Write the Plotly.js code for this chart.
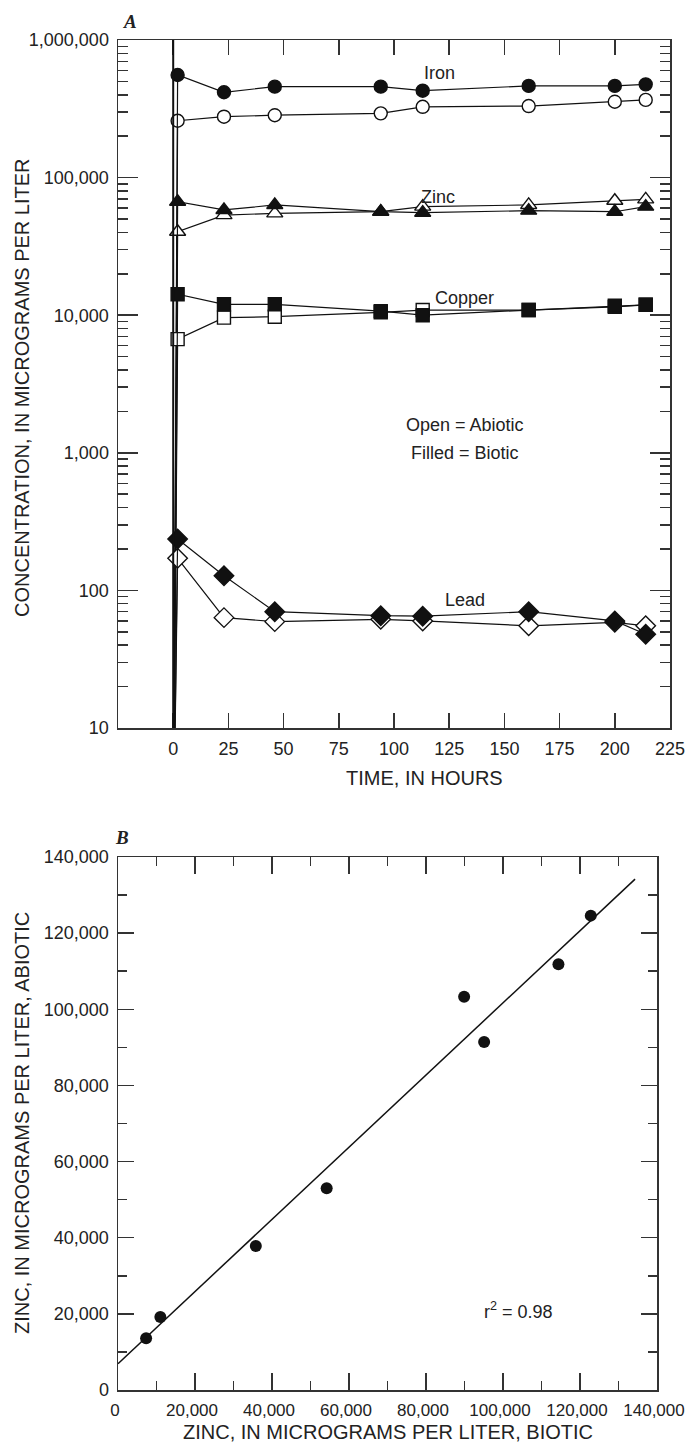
<!DOCTYPE html>
<html>
<head>
<meta charset="utf-8">
<script src="https://cdn.plot.ly/plotly-3.0.1.min.js"></script>
<style>
  html, body { margin: 0; padding: 0; background: #fff; }
  #chart { width: 686px; height: 1454px; }
</style>
</head>
<body>
<div id="chart"></div>
<script>
// ---------- Panel A data (time in hours; concentration in micrograms per liter) ----------
// first point = time zero, before metals were detected (below plotted range)
const timeHours = [0, 2, 23, 46, 94, 113, 161, 200, 214];
const ironBiotic    = [1, 557000, 417000, 458000, 458000, 428000, 464000, 464000, 476000];
const ironAbiotic   = [1, 259000, 277000, 284000, 293000, 327000, 331000, 356000, 367000];
const zincBiotic    = [1, 66800, 58200, 63300, 56500, 55600, 57500, 56500, 61500];
const zincAbiotic   = [1, 40400, 53400, 55000, 56500, 61500, 63300, 67900, 69500];
const copperBiotic  = [1, 14200, 12000, 12000, 10700, 10000, 10900, 11700, 11900];
const copperAbiotic = [1, 6700, 9600, 9750, 10500, 10900, 10900, 11500, 11900];
const leadBiotic    = [1, 236, 128, 70, 65.5, 65, 70, 60, 48];
const leadAbiotic   = [1, 171, 63.4, 59.3, 61.6, 60, 55.3, 58.6, 55.3];

const timeTicks = [0, 25, 50, 75, 100, 125, 150, 175, 200, 225];
const concTicks = [10, 100, 1000, 10000, 100000, 1000000];
const concTickText = ["10", "100", "1,000", "10,000", "100,000", "1,000,000"];

// ---------- Panel B data ----------
const zincBioticB  = [7300, 11000, 35800, 54200, 89900, 95100, 114400, 122800];
const zincAbioticB = [13600, 19200, 37800, 53000, 103300, 91400, 111800, 124600];
const fitX = [0, 134300];
const fitY = [6900, 134200];
const zincTicks = [0, 20000, 40000, 60000, 80000, 100000, 120000, 140000];
const zincTickText = ["0", "20,000", "40,000", "60,000", "80,000", "100,000", "120,000", "140,000"];

// ---------- styling ----------
const FONT = '"Liberation Sans", Arial, Helvetica, sans-serif';
const INK = '#222';
const AX = '#333';

// minor log ticks (2..9 per decade)
const minorLog = [];
for (let d = 10; d < 1000000; d *= 10) {
  for (let k = 2; k <= 9; k++) minorLog.push(k * d);
}

function series(y, symbol, filled) {
  return {
    x: timeHours, y: y, type: 'scatter', mode: 'lines+markers',
    xaxis: 'x', yaxis: 'y',
    line: { color: '#111', width: 1.2 },
    marker: {
      symbol: symbol,
      size: symbol === 'diamond' ? 15 : (symbol === 'triangle-up' ? 14 : 13),
      color: filled ? '#111' : '#fff',
      line: { color: '#111', width: 1.4 }
    },
    hoverinfo: 'x+y', showlegend: false
  };
}

const traces = [
  series(ironAbiotic, 'circle', false),
  series(ironBiotic, 'circle', true),
  series(zincAbiotic, 'triangle-up', false),
  series(zincBiotic, 'triangle-up', true),
  series(copperAbiotic, 'square', false),
  series(copperBiotic, 'square', true),
  series(leadAbiotic, 'diamond', false),
  series(leadBiotic, 'diamond', true),
  {
    x: fitX, y: fitY, type: 'scatter', mode: 'lines',
    xaxis: 'x2', yaxis: 'y2',
    line: { color: '#111', width: 1.5 }, showlegend: false
  },
  {
    x: zincBioticB, y: zincAbioticB, type: 'scatter', mode: 'markers',
    xaxis: 'x2', yaxis: 'y2',
    marker: { symbol: 'circle', size: 12, color: '#111' }, showlegend: false
  }
];

const axBase = {
  showgrid: false, zeroline: false, showline: true,
  linecolor: AX, linewidth: 1.5, mirror: 'ticks',
  ticks: 'inside', tickcolor: AX, tickwidth: 1.5,
  tickfont: { family: FONT, size: 18, color: INK },
  ticklabelstandoff: 4, ticklabeloverflow: 'allow'
};

// paper coords helpers (plot area: x 118..670 px, y 40..1390 px)
const px = v => (v - 118) / 552;
const py = v => (1390 - v) / 1350;

const titleFont = { family: FONT, size: 20, color: INK };
const noteFont = { family: FONT, size: 18, color: INK };
const serifFont = { family: '"Liberation Serif", "Times New Roman", serif', size: 19, color: INK };

function note(text, xref, yref, x, y, font, angle) {
  return { text: text, xref: xref, yref: yref, x: x, y: y, xanchor: 'center', yanchor: 'middle',
           textangle: angle || 0, showarrow: false, font: font };
}

const layout = {
  width: 686, height: 1454,
  margin: { l: 118, r: 16, t: 40, b: 64 },
  paper_bgcolor: '#fff', plot_bgcolor: '#fff',
  showlegend: false,
  xaxis: Object.assign({}, axBase, {
    domain: [0, 1], anchor: 'y', range: [-25, 225],
    tickmode: 'array', tickvals: timeTicks, ticklen: 15
  }),
  yaxis: Object.assign({}, axBase, {
    domain: [py(728), 1], anchor: 'x', type: 'log', range: [1, 6],
    tickmode: 'array', tickvals: concTicks, ticktext: concTickText, ticklen: 20,
    minor: { tickmode: 'array', tickvals: minorLog, ticks: 'inside', ticklen: 10,
             tickcolor: AX, tickwidth: 1.5, showgrid: false }
  }),
  xaxis2: Object.assign({}, axBase, {
    domain: [0, px(657)], anchor: 'y2', range: [0, 140000],
    tickmode: 'array', tickvals: zincTicks, ticktext: zincTickText, ticklen: 17,
    tickfont: { family: FONT, size: 17, color: INK },
    ticklabelshift: -3,
    minor: { tickmode: 'linear', tick0: 0, dtick: 10000, ticks: 'inside', ticklen: 9, tickcolor: AX, tickwidth: 1.5, showgrid: false }
  }),
  yaxis2: Object.assign({}, axBase, {
    domain: [0, py(857)], anchor: 'x2', range: [0, 140000],
    tickmode: 'array', tickvals: zincTicks, ticktext: zincTickText, ticklen: 16,
    minor: { tickmode: 'linear', tick0: 0, dtick: 10000, ticks: 'inside', ticklen: 9, tickcolor: AX, tickwidth: 1.5, showgrid: false }
  }),
  shapes: [
    { type: 'line', xref: 'x', yref: 'y domain', x0: 0, x1: 0, y0: 0, y1: 1,
      line: { color: '#111', width: 2 } }
  ],
  annotations: [
    // panel letters
    note('<b><i>A</i></b>', 'paper', 'paper', px(130), py(22), serifFont),
    note('<b><i>B</i></b>', 'paper', 'paper', px(122), py(837), serifFont),
    // axis titles panel A
    note('TIME, IN HOURS', 'paper', 'paper', px(424), py(778), titleFont),
    note('CONCENTRATION, IN MICROGRAMS PER LITER', 'paper', 'paper', px(22), py(388), titleFont, -90),
    // axis titles panel B
    note('ZINC, IN MICROGRAMS PER LITER, BIOTIC', 'paper', 'paper', px(388), py(1432), titleFont),
    note('ZINC, IN MICROGRAMS PER LITER, ABIOTIC', 'paper', 'paper', px(22), py(1123), titleFont, -90),
    // series labels panel A (y in log10 units)
    note('Iron', 'x', 'y', 120.5, 5.76, noteFont),
    note('Zinc', 'x', 'y', 120, 4.86, noteFont),
    note('Copper', 'x', 'y', 132, 4.125, noteFont),
    note('Lead', 'x', 'y', 132, 1.93, noteFont),
    note('Open = Abiotic', 'x', 'y', 132, 3.2, noteFont),
    note('Filled = Biotic', 'x', 'y', 132, 3.0, noteFont),
    // panel B note
    note('r<sup>2</sup> = 0.98', 'x2', 'y2', 104000, 21000, noteFont)
  ]
};

Plotly.newPlot('chart', traces, layout, { staticPlot: true, displayModeBar: false });
</script>
</body>
</html>
